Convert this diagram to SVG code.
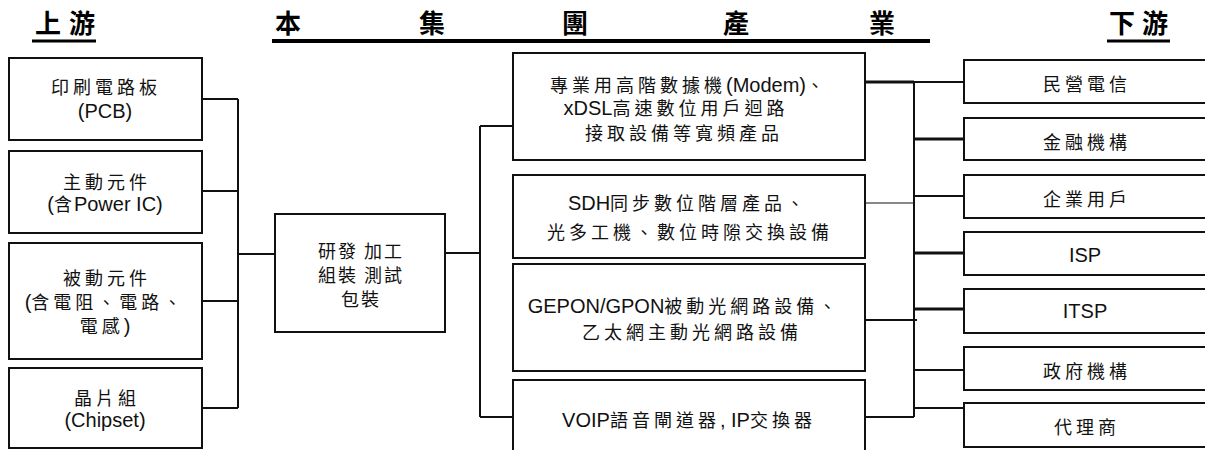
<svg xmlns="http://www.w3.org/2000/svg" width="1205" height="450" viewBox="0 0 1205 450">
<style>
.bg{fill:#fff}
.box{fill:#fff;stroke:#111;stroke-width:2}
.ln{stroke:#111;stroke-width:2;fill:none}
.thk{stroke-width:3}
.thn{stroke-width:1.2}
.ul{stroke:#000;fill:none}
.hd{font-family:"Noto Sans CJK TC",sans-serif;font-weight:bold;font-size:26px;text-anchor:middle;fill:#000}
.t{font-family:"Liberation Sans","Noto Sans CJK TC",sans-serif;font-size:20px;text-anchor:middle;fill:#111}
.c{font-family:"Noto Sans CJK TC",sans-serif;font-size:18px;letter-spacing:4px}
.c2{font-family:"Noto Sans CJK TC",sans-serif;font-size:18px;letter-spacing:2px}
</style>
<rect class="bg" x="0" y="0" width="1205" height="450"/>

<g id="headers">
  <text class="hd" x="48" y="33">上</text>
  <text class="hd" x="82" y="33">游</text>
  <line class="ul" x1="32" y1="41" x2="96" y2="41" stroke-width="3"/>
  <text class="hd" x="288" y="33">本</text>
  <text class="hd" x="432" y="33">集</text>
  <text class="hd" x="575" y="33">團</text>
  <text class="hd" x="736" y="33">產</text>
  <text class="hd" x="882" y="33">業</text>
  <line class="ul" x1="272" y1="41" x2="930" y2="41" stroke-width="4"/>
  <text class="hd" x="1122" y="33">下</text>
  <text class="hd" x="1155" y="33">游</text>
  <line class="ul" x1="1107" y1="41" x2="1170" y2="41" stroke-width="3"/>
</g>

<g id="connectors">
  <path class="ln" d="M202 99H238M202 191H238M202 301H238M202 408H238M238 99V408"/>
  <path class="ln" d="M238 254H275"/>
  <path class="ln" d="M445 253H480M480 126V417M480 126H513M480 417H513"/>
  <path class="ln thk" d="M865 82H914"/>
  <path class="ln thn" d="M865 203H914"/>
  <path class="ln" d="M865 320H917"/>
  <path class="ln" d="M865 417H914"/>
  <path class="ln" stroke-width="2.5" d="M914 82V417"/>
  <path class="ln" d="M914 82H964"/>
  <path class="ln thk" d="M914 139H964"/>
  <path class="ln" stroke-width="1" d="M914 196H964"/>
  <path class="ln thk" d="M914 253H964"/>
  <path class="ln thk" d="M914 309H964"/>
  <path class="ln" stroke-width="2.5" d="M914 370H964"/>
  <path class="ln" d="M914 408H964"/>
</g>

<g id="up-pcb">
  <rect class="box" x="9" y="58" width="193" height="82"/>
  <text class="t" x="106" y="94"><tspan class="c">印刷電路板</tspan></text>
  <text class="t" x="105" y="118">(PCB)</text>
</g>
<g id="up-active">
  <rect class="box" x="9" y="151" width="193" height="82"/>
  <text class="t" x="107" y="189"><tspan class="c">主動元件</tspan></text>
  <text class="t" x="105" y="211">(<tspan class="c2">含</tspan>Power IC)</text>
</g>
<g id="up-passive">
  <rect class="box" x="9" y="243" width="193" height="116"/>
  <text class="t" x="107" y="285"><tspan class="c">被動元件</tspan></text>
  <text class="t" x="105" y="309">(<tspan class="c">含電阻、電路、</tspan></text>
  <text class="t" x="105" y="333"><tspan class="c">電感</tspan>)</text>
</g>
<g id="up-chipset">
  <rect class="box" x="9" y="368" width="193" height="80"/>
  <text class="t" x="107" y="405"><tspan class="c">晶片組</tspan></text>
  <text class="t" x="105" y="427">(Chipset)</text>
</g>

<g id="group-process">
  <rect class="box" x="275" y="214" width="170" height="118"/>
  <text class="t" x="361" y="258"><tspan class="c2">研發 加工</tspan></text>
  <text class="t" x="361" y="282"><tspan class="c2">組裝 測試</tspan></text>
  <text class="t" x="361" y="306"><tspan class="c2">包裝</tspan></text>
</g>

<g id="prod-modem">
  <rect class="box" x="513" y="53" width="352" height="107"/>
  <text class="t" x="689" y="92"><tspan class="c">專業用高階數據機</tspan>(Modem)<tspan class="c">、</tspan></text>
  <text class="t" x="676" y="115">xDSL<tspan class="c">高速數位用戶迴路</tspan></text>
  <text class="t" x="684" y="140"><tspan class="c">接取設備等寬頻產品</tspan></text>
</g>
<g id="prod-sdh">
  <rect class="box" x="513" y="175" width="352" height="83"/>
  <text class="t" x="688" y="210">SDH<tspan class="c">同步數位階層產品、</tspan></text>
  <text class="t" x="690" y="239"><tspan class="c">光多工機、數位時隙交換設備</tspan></text>
</g>
<g id="prod-pon">
  <rect class="box" x="513" y="264" width="352" height="107"/>
  <text class="t" x="684" y="313">GEPON/GPON<tspan class="c">被動光網路設備、</tspan></text>
  <text class="t" x="692" y="339"><tspan class="c">乙太網主動光網路設備</tspan></text>
</g>
<g id="prod-voip">
  <rect class="box" x="513" y="380" width="352" height="75"/>
  <text class="t" x="689" y="427">VOIP<tspan class="c">語音閘道器</tspan>, IP<tspan class="c">交換器</tspan></text>
</g>

<g id="down-telecom">
  <rect class="box" x="964" y="60" width="250" height="43"/>
  <text class="t" x="1087" y="91"><tspan class="c">民營電信</tspan></text>
</g>
<g id="down-finance">
  <rect class="box" x="964" y="118" width="250" height="42"/>
  <text class="t" x="1087" y="149"><tspan class="c">金融機構</tspan></text>
</g>
<g id="down-enterprise">
  <rect class="box" x="964" y="175" width="250" height="43"/>
  <text class="t" x="1087" y="206"><tspan class="c">企業用戶</tspan></text>
</g>
<g id="down-isp">
  <rect class="box" x="964" y="232" width="250" height="43"/>
  <text class="t" x="1085" y="262">ISP</text>
</g>
<g id="down-itsp">
  <rect class="box" x="964" y="289" width="250" height="44"/>
  <text class="t" x="1085" y="318">ITSP</text>
</g>
<g id="down-gov">
  <rect class="box" x="964" y="347" width="250" height="43"/>
  <text class="t" x="1087" y="378"><tspan class="c">政府機構</tspan></text>
</g>
<g id="down-agent">
  <rect class="box" x="964" y="403" width="250" height="44"/>
  <text class="t" x="1087" y="434"><tspan class="c">代理商</tspan></text>
</g>
</svg>
